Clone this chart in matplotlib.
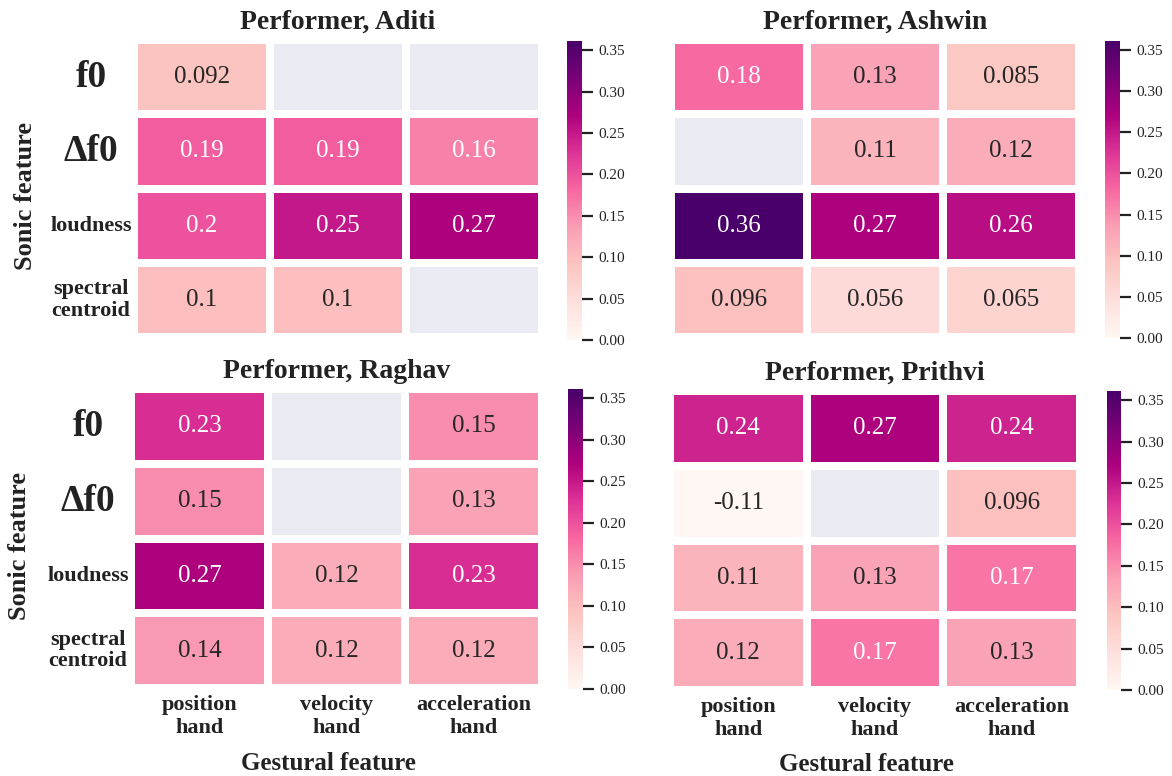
import numpy as np
import matplotlib
matplotlib.use("Agg")
import matplotlib.pyplot as plt
import seaborn as sns

sns.set_theme(style="darkgrid")
plt.rcParams['font.family'] = ['Liberation Serif', 'DejaVu Serif']

nan = np.nan
performers = ["Aditi", "Ashwin", "Raghav", "Prithvi"]
sonic_features = ["f0", "Δf0", "loudness", "spectral\ncentroid"]
gestural_features = ["position\nhand", "velocity\nhand", "acceleration\nhand"]
cbar_ticks = [0.00, 0.05, 0.10, 0.15, 0.20, 0.25, 0.30, 0.35]

aditi = [[0.092, nan, nan],
         [0.19, 0.19, 0.16],
         [0.2, 0.25, 0.27],
         [0.1, 0.1, nan]]
ashwin = [[0.18, 0.13, 0.085],
          [nan, 0.11, 0.12],
          [0.36, 0.27, 0.26],
          [0.096, 0.056, 0.065]]
raghav = [[0.23, nan, 0.15],
          [0.15, nan, 0.13],
          [0.27, 0.12, 0.23],
          [0.14, 0.12, 0.12]]
prithvi = [[0.24, 0.27, 0.24],
           [-0.11, nan, 0.096],
           [0.11, 0.13, 0.17],
           [0.12, 0.17, 0.13]]
datasets = [aditi, ashwin, raghav, prithvi]

W, H = 1172, 776
fig = plt.figure(figsize=(W / 100, H / 100), dpi=100)
fig.patch.set_facecolor("white")


def px(x0, y0, x1, y1):
    return [x0 / W, 1 - y1 / H, (x1 - x0) / W, (y1 - y0) / H]


heat_pos = [px(134, 40, 542, 337), px(671, 40, 1079, 337),
            px(131, 389, 542, 688), px(670, 391, 1080, 690)]
cbar_pos = [px(567, 41, 582, 340), px(1105, 41, 1120, 338),
            px(568, 389, 583, 689), px(1107, 391, 1121, 690)]
ylabel_x = {0: -0.238, 2: -0.243}
xlabel_y = {2: -0.214, 3: -0.212}

text_color = "#222222"

for i, (name, data) in enumerate(zip(performers, datasets)):
    ax = fig.add_axes(heat_pos[i])
    cax = fig.add_axes(cbar_pos[i])
    left = i in (0, 2)
    bottom = i in (2, 3)
    sns.heatmap(np.array(data, dtype=float), ax=ax, cbar_ax=cax, cmap="RdPu",
                vmin=0, vmax=0.361, annot=True, fmt=".2g",
                annot_kws={"size": 18}, linewidths=4.5, linecolor="white",
                xticklabels=gestural_features if bottom else False,
                yticklabels=sonic_features if left else False)
    ax.grid(False)
    ax.set_title(f"Performer, {name}", fontsize=20, fontweight="bold",
                 color=text_color, pad=8)
    ax.tick_params(length=0)
    if left:
        for j, lab in enumerate(ax.get_yticklabels()):
            lab.set_rotation(0)
            lab.set_fontweight("bold")
            lab.set_fontsize(27 if j < 2 else 16)
            lab.set_ha("center")
            lab.set_color(text_color)
            lab.set_linespacing(1.1)
        ax.tick_params(axis="y", pad=31)
        ax.set_ylabel("Sonic feature", fontsize=19, fontweight="bold",
                      color=text_color)
        ax.yaxis.set_label_coords(ylabel_x[i], 0.475)
    if bottom:
        for lab in ax.get_xticklabels():
            lab.set_rotation(0)
            lab.set_fontweight("bold")
            lab.set_fontsize(16)
            lab.set_color(text_color)
            lab.set_linespacing(1.2)
        ax.tick_params(axis="x", pad=5)
        ax.set_xlabel("Gestural feature", fontsize=18, fontweight="bold",
                      color=text_color)
        ax.xaxis.set_label_coords(0.48, xlabel_y[i])
    cbar = ax.collections[0].colorbar
    cbar.outline.set_visible(False)
    cbar.set_ticks(cbar_ticks)
    cbar.set_ticklabels([f"{t:.2f}" for t in cbar_ticks])
    cax.tick_params(axis="y", right=True, length=8, width=1.6,
                    color=text_color, labelsize=11, labelcolor=text_color, pad=4)

fig.savefig("out.png", dpi=100, facecolor="white")
